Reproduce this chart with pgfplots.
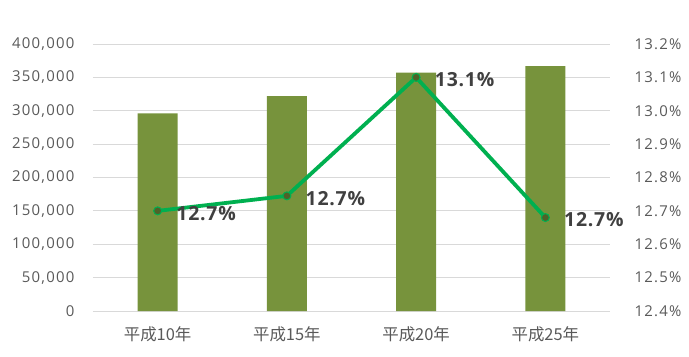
\documentclass[border=0pt]{standalone}
\usepackage{pgfplots}
\pgfplotsset{compat=1.18}
\usepackage{fontspec}
\setmainfont{Open Sans}
\newfontfamily\jp{Noto Sans CJK JP}
\newfontfamily\tk[LetterSpace=8]{Open Sans}
\newfontfamily\lb[LetterSpace=4]{Open Sans}
\definecolor{barc}{HTML}{77933C}
\definecolor{linec}{HTML}{00B050}
\definecolor{markc}{HTML}{4F6228}
\definecolor{txt}{HTML}{595959}
\definecolor{lbl}{HTML}{404040}
\definecolor{gridc}{HTML}{D9D9D9}
\begin{document}
\begin{tikzpicture}
\useasboundingbox (-93bp,-46bp) rectangle (596bp,311bp);
\begin{axis}[
  at={(0,0)}, anchor=south west, scale only axis,
  width=517bp, height=267bp,
  xmin=-0.5, xmax=3.5, ymin=0, ymax=400000,
  axis x line=bottom, axis y line=left,
  axis line style={draw=none}, tick style={draw=none},
  ymajorgrids, major grid style={gridc, line width=0.8bp},
  xtick={0,1,2,3},
  xticklabels={平成10年,平成15年,平成20年,平成25年},
  x tick label style={font=\jp\fontsize{16.5}{16.5}\selectfont, text=txt, yshift=-10bp},
  ytick={0,50000,100000,150000,200000,250000,300000,350000,400000},
  scaled y ticks=false,
  y tick label style={font=\tk\fontsize{15}{15}\selectfont, text=txt, xshift=-13bp},
  /pgf/number format/.cd, 1000 sep={,}, fixed, assume math mode=true,
]
\addplot[ybar, bar width=40bp, fill=barc, draw=none] coordinates {
  (0,296000) (1,322000) (2,357000) (3,367000)};
\end{axis}
\begin{axis}[
  at={(0,0)}, anchor=south west, scale only axis,
  width=517bp, height=267bp,
  xmin=-0.5, xmax=3.5, ymin=12.4, ymax=13.2,
  axis x line=none, axis y line=right,
  axis line style={draw=none}, tick style={draw=none},
  ytick={12.4,12.5,12.6,12.7,12.8,12.9,13.0,13.1,13.2},
  yticklabel={\pgfmathprintnumber[fixed,fixed zerofill,precision=1,assume math mode=true]{\tick}\%},
  y tick label style={font=\tk\fontsize{15}{15}\selectfont, text=txt, xshift=19bp},
  clip=false,
]
\addplot[linec, line width=3.8bp, mark=*, mark size=4bp,
  mark options={fill=markc, draw=linec, line width=1bp},
  point meta=explicit symbolic,
  nodes near coords,
  every node near coord/.style={anchor=west, xshift=15bp, yshift=-2.5bp, font=\lb\bfseries\fontsize{19.5}{19.5}\selectfont, text=lbl},
] coordinates {
  (0,12.70) [12.7\%]
  (1,12.745) [12.7\%]
  (2,13.10) [13.1\%]
  (3,12.68) [12.7\%]
};
\end{axis}
\end{tikzpicture}
\end{document}
